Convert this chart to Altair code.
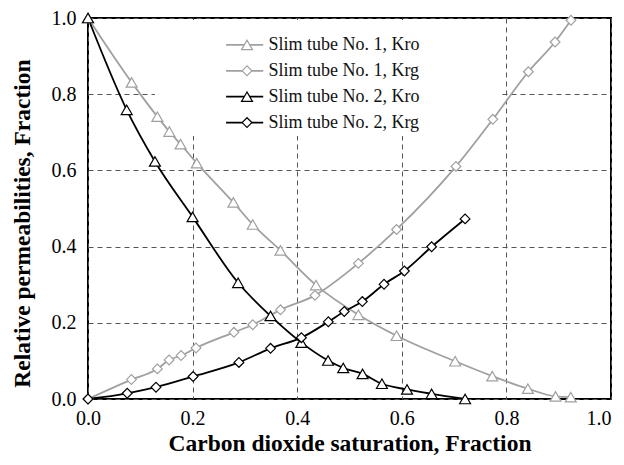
import altair as alt
import pandas as pd

# ---- data ----
series_names = ["Slim tube No. 1, Kro", "Slim tube No. 1, Krg",
                "Slim tube No. 2, Kro", "Slim tube No. 2, Krg"]
series_colors = ["#a0a0a0", "#a0a0a0", "#000000", "#000000"]
series_shapes = ["triangle-up", "diamond", "triangle-up", "diamond"]

kro1_x = [0.0, 0.0835, 0.1326, 0.1555, 0.177, 0.208, 0.278, 0.315, 0.368, 0.436,
          0.517, 0.590, 0.702, 0.773, 0.841, 0.894, 0.923]
kro1_y = [1.0, 0.831, 0.741, 0.702, 0.669, 0.619, 0.516, 0.458, 0.390, 0.299,
          0.221, 0.166, 0.099, 0.060, 0.027, 0.007, 0.005]
krg1_x = [0.0, 0.083, 0.1326, 0.155, 0.178, 0.2065, 0.279, 0.315, 0.368, 0.434,
          0.517, 0.590, 0.7036, 0.774, 0.842, 0.893, 0.9235]
krg1_y = [0.0, 0.051, 0.079, 0.1025, 0.114, 0.134, 0.175, 0.195, 0.234, 0.272,
          0.356, 0.445, 0.6105, 0.734, 0.859, 0.937, 0.994]
kro2_x = [0.0, 0.074, 0.128, 0.200, 0.287, 0.349, 0.408, 0.459, 0.488, 0.525,
          0.562, 0.610, 0.657, 0.721]
kro2_y = [1.0, 0.759, 0.6235, 0.478, 0.305, 0.218, 0.148, 0.101, 0.0815, 0.066,
          0.040, 0.025, 0.0136, 0.0]
krg2_x = [0.0, 0.075, 0.130, 0.201, 0.2886, 0.349, 0.408, 0.4595, 0.490, 0.5245,
          0.566, 0.605, 0.657, 0.721]
krg2_y = [0.0, 0.015, 0.031, 0.059, 0.096, 0.133, 0.161, 0.2026, 0.2296, 0.2557,
          0.301, 0.336, 0.3995, 0.4727]

tick_values = [0.0, 0.2, 0.4, 0.6, 0.8, 1.0]

# ---- legend layout (data coordinates) ----
legend_rows_y = [0.9294, 0.8614, 0.7935, 0.7255]
legend_line_x = [0.264, 0.335]
legend_symbol_x = 0.304
legend_text_x = 0.345
legend_box = {"x": 0.128, "x2": 0.79, "y": 0.69, "y2": 0.995}

FONT = "Liberation Serif, Times New Roman, serif"

xs = [kro1_x, krg1_x, kro2_x, krg2_x]
ys = [kro1_y, krg1_y, kro2_y, krg2_y]
rows = []
for i, name in enumerate(series_names):
    for j, (a, b) in enumerate(zip(xs[i], ys[i])):
        rows.append({"series": name, "order": i, "idx": j, "x": a, "y": b})
df = pd.DataFrame(rows)

leg = pd.DataFrame({
    "series": series_names,
    "order": list(range(4)),
    "y": legend_rows_y,
    "x1": [legend_line_x[0]] * 4,
    "x2": [legend_line_x[1]] * 4,
    "xs": [legend_symbol_x] * 4,
    "xt": [legend_text_x] * 4,
})
box = pd.DataFrame([legend_box])

stroke_scale = alt.Scale(domain=series_names, range=series_colors)
shape_scale = alt.Scale(domain=series_names, range=series_shapes)

xscale = alt.Scale(domain=[0, 1], nice=False, zero=False)
yscale = alt.Scale(domain=[0, 1], nice=False, zero=False)

xaxis = alt.Axis(values=tick_values, format=".1f", title="Carbon dioxide saturation, Fraction",
                 labelPadding=9, labelFlush=False,
                 labelAlign=alt.condition("datum.value >= 1", alt.value("right"), alt.value("center")),
                 titleBaseline="middle", titleY=44.5)
yaxis = alt.Axis(values=tick_values, format=".1f", title="Relative permeabilities, Fraction",
                 labelPadding=12, labelFlush=False, titleBaseline="middle", titleX=-66, titleY=205)

size_cond = alt.condition(
    "datum.series == 'Slim tube No. 1, Kro' || datum.series == 'Slim tube No. 2, Kro'",
    alt.value(120), alt.value(95))

cover = alt.Chart(box).mark_rect(color="white").encode(
    x=alt.X("x:Q", scale=xscale, axis=xaxis),
    x2="x2:Q",
    y=alt.Y("y:Q", scale=yscale, axis=yaxis),
    y2="y2:Q",
)

lines = alt.Chart(df).mark_line(interpolate="monotone", strokeWidth=1.8).encode(
    x="x:Q", y="y:Q",
    stroke=alt.Stroke("series:N", scale=stroke_scale, legend=None),
    detail="series:N",
    order="idx:Q",
)

points = alt.Chart(df).mark_point(fill="white", filled=False, fillOpacity=1,
                                  strokeWidth=1.2, opacity=1).encode(
    x="x:Q", y="y:Q",
    stroke=alt.Stroke("series:N", scale=stroke_scale, legend=None),
    shape=alt.Shape("series:N", scale=shape_scale, legend=None),
    size=size_cond,
)

leg_lines = alt.Chart(leg).mark_rule(strokeWidth=1.8).encode(
    x="x1:Q", x2="x2:Q", y="y:Q",
    stroke=alt.Stroke("series:N", scale=stroke_scale, legend=None),
)
leg_points = alt.Chart(leg).mark_point(fill="white", filled=False, fillOpacity=1,
                                       strokeWidth=1.2, opacity=1).encode(
    x="xs:Q", y="y:Q",
    stroke=alt.Stroke("series:N", scale=stroke_scale, legend=None),
    shape=alt.Shape("series:N", scale=shape_scale, legend=None),
    size=size_cond,
)
leg_text = alt.Chart(leg).mark_text(align="left", baseline="middle", font=FONT,
                                    fontSize=18, color="#111").encode(
    x="xt:Q", y="y:Q", text="series:N",
)

chart = alt.layer(cover, lines, points, leg_lines, leg_points, leg_text).properties(
    width=523, height=381,
    autosize=alt.AutoSizeParams(type="none"),
    padding={"left": 80, "top": 10, "right": 5, "bottom": 58},
).configure_view(
    stroke="black", strokeWidth=2
).configure_axis(
    labelFont=FONT, labelFontSize=20, labelColor="black",
    titleFont=FONT, titleFontSize=23.5, titleFontWeight="bold", titleColor="black",
    ticks=False, domain=False,
    gridColor="#555555", gridDash=[5, 4], gridWidth=1, labelOverlap=False,
)

chart.save("out.html", embed_options={"renderer": "svg", "actions": False})
